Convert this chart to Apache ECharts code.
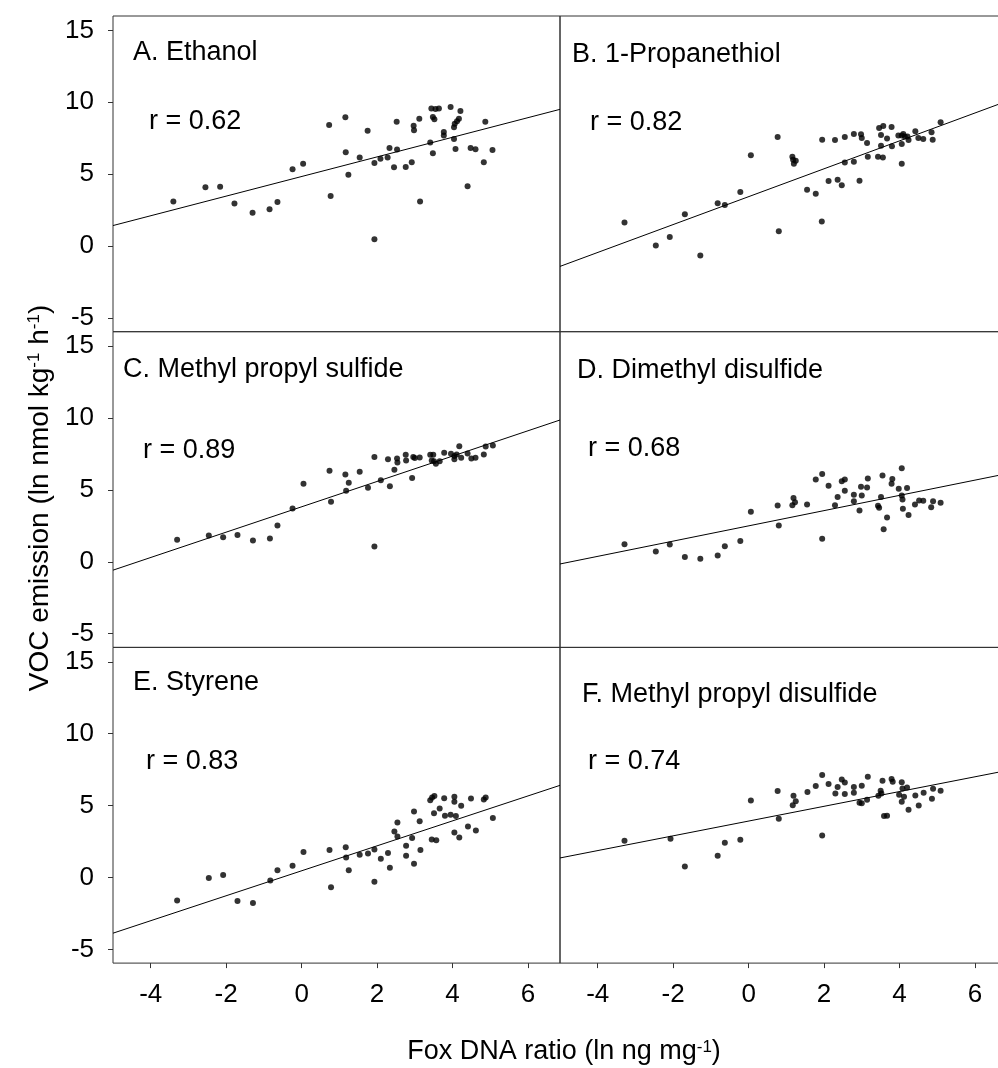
<!DOCTYPE html>
<html>
<head>
<meta charset="utf-8">
<script src="https://cdn.jsdelivr.net/npm/echarts@6/dist/echarts.min.js"></script>
<style>
  html, body { margin: 0; padding: 0; background: #fff; }
  #chart { width: 998px; height: 1068px; }
</style>
</head>
<body>
<div id="chart"></div>
<script>
// panel titles and correlation labels
const panelNames = ['A. Ethanol', 'B. 1-Propanethiol', 'C. Methyl propyl sulfide',
  'D. Dimethyl disulfide', 'E. Styrene', 'F. Methyl propyl disulfide'];
const rLabels = ['r = 0.62', 'r = 0.82', 'r = 0.89', 'r = 0.68', 'r = 0.83', 'r = 0.74'];

const xTicks = [-4, -2, 0, 2, 4, 6];
const yTicks = [-5, 0, 5, 10, 15];

// points [fox DNA ratio, VOC emission]
const ethanol = [[-3.40,3.10],[-2.55,4.09],[-2.16,4.13],[-1.78,2.97],[-1.30,2.32],[-0.85,2.56],[-0.64,3.07],
  [-0.24,5.34],[0.04,5.73],[0.73,8.42],[0.77,3.48],[1.16,8.96],[1.17,6.52],[1.24,4.97],[1.54,6.17],[1.75,8.03],
  [1.93,5.78],[1.93,0.47],[2.09,6.08],[2.28,6.17],[2.33,6.82],[2.45,5.48],[2.52,8.65],[2.53,6.71],[2.76,5.50],
  [2.92,5.83],[2.97,8.37],[2.98,8.05],[3.12,8.86],[3.14,3.11],[3.41,7.21],[3.44,9.57],[3.48,6.45],[3.48,8.98],
  [3.52,8.82],[3.55,9.54],[3.64,9.57],[3.77,7.93],[3.77,7.70],[3.95,9.67],[4.04,7.45],[4.04,8.26],[4.06,8.51],
  [4.08,6.75],[4.12,8.68],[4.17,8.86],[4.21,9.40],[4.40,4.16],[4.48,6.82],[4.61,6.73],[4.83,5.83],[4.87,8.65],
  [5.06,6.68]];
const propanethiol = [[-3.29,1.65],[-2.46,0.05],[-2.09,0.63],[-1.69,2.21],[-1.28,-0.66],[-0.82,2.98],[-0.63,2.86],
  [-0.22,3.76],[0.06,6.31],[0.77,7.59],[0.80,1.03],[1.16,6.22],[1.18,6.01],[1.20,5.73],[1.25,5.94],[1.55,3.92],
  [1.78,3.65],[1.95,7.40],[1.94,1.72],[2.12,4.53],[2.29,7.38],[2.36,4.62],[2.47,4.23],[2.55,7.59],[2.55,5.82],
  [2.79,7.80],[2.79,5.87],[2.94,4.55],[2.98,7.78],[3.00,7.52],[3.14,7.17],[3.16,6.22],[3.43,6.22],[3.46,8.21],
  [3.51,7.73],[3.51,6.98],[3.57,8.35],[3.56,6.17],[3.67,7.49],[3.79,8.28],[3.80,6.94],[3.97,7.70],[4.06,7.70],
  [4.06,7.10],[4.06,5.73],[4.10,7.80],[4.14,7.63],[4.21,7.63],[4.24,7.38],[4.42,7.98],[4.50,7.52],[4.63,7.45],
  [4.85,7.91],[4.88,7.40],[5.09,8.61]];
const methylPropylSulfide = [[-3.30,1.53],[-2.46,1.83],[-2.08,1.70],[-1.70,1.86],[-1.29,1.49],[-0.84,1.63],
  [-0.64,2.53],[-0.24,3.71],[0.05,5.43],[0.74,6.33],[0.78,4.17],[1.16,6.07],[1.18,4.94],[1.25,5.50],[1.54,6.26],
  [1.76,5.15],[1.93,7.28],[1.93,1.07],[2.10,5.68],[2.29,7.14],[2.34,5.26],[2.46,6.40],[2.53,7.19],[2.54,6.91],
  [2.76,7.44],[2.77,7.05],[2.93,5.82],[2.96,7.28],[3.00,7.21],[3.13,7.26],[3.41,7.44],[3.45,7.05],[3.49,7.44],
  [3.51,7.00],[3.56,6.82],[3.66,7.00],[3.78,7.58],[3.96,7.51],[4.05,7.14],[4.05,7.35],[4.11,7.47],[4.18,8.04],
  [4.23,7.23],[4.40,7.53],[4.50,7.19],[4.61,7.23],[4.83,7.47],[4.88,8.02],[5.07,8.09]];
const dimethylDisulfide = [[-3.29,1.23],[-2.46,0.72],[-2.09,1.21],[-1.69,0.33],[-1.28,0.21],[-0.82,0.44],
  [-0.63,1.09],[-0.22,1.44],[0.06,3.48],[0.77,3.92],[0.80,2.53],[1.19,4.43],[1.16,3.94],[1.23,4.15],[1.55,3.99],
  [1.78,5.73],[1.95,6.10],[1.95,1.60],[2.12,5.29],[2.29,3.94],[2.36,4.50],[2.47,5.61],[2.55,5.73],[2.55,4.94],
  [2.79,4.66],[2.79,4.22],[2.94,3.57],[2.98,5.22],[3.00,4.61],[3.14,5.17],[3.16,5.80],[3.43,3.89],[3.46,3.76],
  [3.51,4.50],[3.55,6.00],[3.58,2.27],[3.67,3.08],[3.79,5.42],[3.81,5.75],[3.98,5.08],[4.06,6.51],[4.06,4.61],
  [4.08,4.34],[4.09,3.69],[4.20,5.13],[4.24,3.25],[4.41,3.99],[4.52,4.27],[4.63,4.24],[4.84,3.80],[4.89,4.22],
  [5.09,4.10]];
const styrene = [[-3.30,-1.59],[-2.46,-0.04],[-2.08,0.17],[-1.70,-1.64],[-1.29,-1.78],[-0.83,-0.20],[-0.64,0.51],
  [-0.24,0.82],[0.05,1.77],[0.74,1.91],[0.78,-0.67],[1.17,2.11],[1.18,1.40],[1.25,0.51],[1.54,1.58],[1.76,1.67],
  [1.93,1.95],[1.93,-0.30],[2.10,1.30],[2.29,1.70],[2.34,0.68],[2.46,3.20],[2.54,3.83],[2.54,2.86],[2.77,2.21],
  [2.77,1.51],[2.93,2.74],[2.98,4.59],[2.98,0.96],[3.13,3.92],[3.15,1.91],[3.41,5.38],[3.45,2.65],[3.46,5.56],
  [3.51,4.47],[3.52,5.67],[3.57,2.60],[3.66,4.80],[3.78,5.52],[3.80,4.29],[3.95,4.36],[4.05,5.61],[4.05,5.26],
  [4.05,3.13],[4.09,4.27],[4.18,2.79],[4.23,4.99],[4.41,3.55],[4.49,5.50],[4.62,3.27],[4.83,5.43],[4.88,5.56],
  [5.07,4.13]];
const methylPropylDisulfide = [[-3.29,2.55],[-2.07,2.69],[-1.69,0.77],[-0.82,1.51],[-0.63,2.42],[-0.22,2.62],
  [0.06,5.36],[0.77,6.01],[0.80,4.08],[1.19,5.68],[1.17,5.03],[1.25,5.31],[1.56,5.94],[1.78,6.36],[1.95,7.12],
  [1.95,2.93],[2.12,6.50],[2.30,5.85],[2.36,6.29],[2.47,6.82],[2.55,6.61],[2.55,5.80],[2.79,6.29],[2.79,5.89],
  [2.94,5.20],[3.00,5.17],[3.00,6.38],[3.14,5.40],[3.16,7.00],[3.44,5.68],[3.50,6.03],[3.52,5.85],[3.55,6.73],
  [3.59,4.27],[3.67,4.29],[3.79,6.85],[3.82,6.66],[3.99,5.75],[4.06,6.63],[4.06,5.27],[4.08,6.19],[4.12,5.61],
  [4.20,6.26],[4.24,4.71],[4.42,5.71],[4.51,5.01],[4.64,5.89],[4.86,5.47],[4.89,6.17],[5.09,6.03]];

// fitted regression lines, end points
const fitLines = [
  [[-5, 1.43], [6.85, 9.51]],
  [[-5, -1.41], [6.85, 10.08]],
  [[-5, -0.58], [6.85, 9.86]],
  [[-5, -0.15], [6.85, 6.13]],
  [[-5, -3.87], [6.85, 6.41]],
  [[-5, 1.36], [6.85, 7.44]]
];

const panelData = [ethanol, propanethiol, methylPropylSulfide, dimethylDisulfide, styrene, methylPropylDisulfide];

const FONT = '"Liberation Sans", Arial, sans-serif';
const lefts = [113, 560];
const tops = [16, 331.7, 647.4];
// where the panel title / r label sit (offset from grid corner)
const labelPos = [
  { t: [20, 23], r: [36, 92] },
  { t: [12, 25], r: [30, 93] },
  { t: [10, 24], r: [30, 105] },
  { t: [17, 25], r: [28, 103] },
  { t: [20, 22], r: [33, 101] },
  { t: [22, 34], r: [28, 101] }
];

const grids = [], xAxes = [], yAxes = [], series = [], graphics = [];

panelData.forEach((pts, i) => {
  const col = i % 2, row = Math.floor(i / 2);
  const left = lefts[col], top = tops[row];
  grids.push({ left: left, top: top, width: 447, height: 315.7,
    outerBoundsMode: 'none', containLabel: false,
    show: true, borderColor: '#333', borderWidth: 1, backgroundColor: 'transparent' });
  const bottom = row === 2, leftCol = col === 0;
  xAxes.push({
    type: 'value', gridIndex: i, min: -5, max: 6.85, position: 'bottom',
    axisLine: { show: false, onZero: false },
    splitLine: { show: false },
    axisTick: { show: bottom, inside: false, length: 5, customValues: xTicks, lineStyle: { color: '#333' } },
    axisLabel: { show: bottom, customValues: xTicks, margin: 19, color: '#000', fontSize: 26, fontFamily: FONT }
  });
  yAxes.push({
    type: 'value', gridIndex: i, min: -5.95, max: 16, position: 'left',
    axisLine: { show: false, onZero: false },
    splitLine: { show: false },
    axisTick: { show: leftCol, inside: false, length: 5, customValues: yTicks, lineStyle: { color: '#333' } },
    axisLabel: { show: leftCol, customValues: yTicks, margin: 19, color: '#000', fontSize: 26, fontFamily: FONT }
  });
  series.push({
    type: 'scatter', xAxisIndex: i, yAxisIndex: i, data: pts,
    symbol: 'circle', symbolSize: 6, itemStyle: { color: '#000' }, silent: true
  });
  series.push({
    type: 'line', xAxisIndex: i, yAxisIndex: i, data: fitLines[i],
    symbol: 'none', lineStyle: { color: '#000', width: 1 }, silent: true
  });
  const lp = labelPos[i];
  graphics.push({
    type: 'text', left: left + lp.t[0], top: top + lp.t[1],
    style: { text: panelNames[i], fontSize: 27, fontFamily: FONT, fill: '#000' }
  });
  graphics.push({
    type: 'text', left: left + lp.r[0], top: top + lp.r[1],
    style: { text: rLabels[i], fontSize: 27, fontFamily: FONT, fill: '#000' }
  });
});

// axis titles with superscripts
graphics.push({
  type: 'text', x: 564, y: 1052,
  style: {
    text: '{n|Fox DNA ratio (ln ng mg}{s|-1}{n|)}',
    align: 'center', verticalAlign: 'middle',
    rich: {
      n: { fontSize: 27, fontFamily: FONT, fill: '#000' },
      s: { fontSize: 17, fontFamily: FONT, fill: '#000', verticalAlign: 'top' }
    }
  }
});
graphics.push({
  type: 'text', x: 40, y: 498, rotation: Math.PI / 2,
  style: {
    text: '{n|VOC emission (ln nmol kg}{s|-1}{n| h}{s|-1}{n|)}',
    align: 'center', verticalAlign: 'middle',
    rich: {
      n: { fontSize: 28, fontFamily: FONT, fill: '#000' },
      s: { fontSize: 17, fontFamily: FONT, fill: '#000', verticalAlign: 'top' }
    }
  }
});

const myChart = echarts.init(document.getElementById('chart'), null, { renderer: 'canvas' });
myChart.setOption({
  animation: false,
  backgroundColor: '#fff',
  grid: grids,
  xAxis: xAxes,
  yAxis: yAxes,
  series: series,
  graphic: graphics
});
</script>
</body>
</html>
